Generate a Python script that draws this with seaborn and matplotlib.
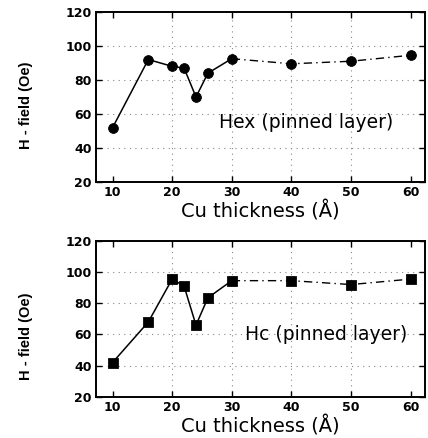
import numpy as np
import pandas as pd
import matplotlib
matplotlib.use("Agg")
import matplotlib.pyplot as plt
import seaborn as sns

# Cu thickness (A)
cu_thickness = [10, 16, 20, 22, 24, 26, 30, 40, 50, 60]
# exchange field of pinned layer (Oe)
hex_field = [52, 92, 88, 87, 70, 84, 92.5, 89.5, 91, 94.5]
# coercivity of pinned layer (Oe)
hc_field = [42, 68, 95.5, 91, 66, 83.5, 94.5, 94.5, 92, 95.5]
y_ticks = [20, 40, 60, 80, 100, 120]
x_ticks = [10, 20, 30, 40, 50, 60]

sns.set_style("ticks", {"text.color": "black", "axes.labelcolor": "black",
                        "xtick.color": "black", "ytick.color": "black",
                        "axes.edgecolor": "black"})
plt.rcParams["font.family"] = ["DejaVu Sans"]

fig = plt.figure(figsize=(4.28, 4.38), dpi=100)
ax_top = fig.add_axes([0.224, 0.584, 0.77, 0.389])
ax_bot = fig.add_axes([0.224, 0.094, 0.77, 0.356])


def draw_panel(ax, values, marker, label, text_xy, ylab_y):
    df = pd.DataFrame({"x": cu_thickness, "y": values})
    solid = df[df.x <= 30]
    dashed = df[df.x >= 30]
    sns.lineplot(data=solid, x="x", y="y", ax=ax, color="black", lw=1.1,
                 sort=False, estimator=None)
    sns.lineplot(data=dashed, x="x", y="y", ax=ax, color="black", lw=1.0,
                 sort=False, estimator=None, linestyle=(0, (6, 3, 1, 3)))
    sns.scatterplot(data=df, x="x", y="y", ax=ax, marker=marker, s=50,
                    color="black", edgecolor="black", zorder=5)
    ax.set_xlim(7.2, 62.5)
    ax.set_ylim(20, 120)
    ax.set_xticks(x_ticks)
    ax.set_yticks(y_ticks)
    for v in [40, 60, 80, 100]:
        ax.axhline(v, color="#888888", lw=0.8, ls=(0, (1, 4)), zorder=0)
    for v in [20, 30, 40, 50]:
        ax.axvline(v, color="#888888", lw=0.8, ls=(0, (1, 4)), zorder=0)
    ax.tick_params(direction="in", top=True, right=True, length=4,
                   width=1.0, labelsize=9, pad=3, colors="black")
    for lab in ax.get_xticklabels() + ax.get_yticklabels():
        lab.set_fontweight("bold")
    for sp in ax.spines.values():
        sp.set_linewidth(1.4)
        sp.set_color("black")
        sp.set_visible(True)
    ax.set_xlabel("Cu thickness (Å)", fontsize=14, labelpad=1, color="black")
    ax.set_ylabel("H - field (Oe)", fontsize=10.5, fontweight="bold",
                  color="black",
                  family=["DejaVu Sans Condensed", "Liberation Sans Narrow",
                          "Liberation Sans"])
    ax.yaxis.set_label_coords(-0.19, ylab_y)
    ax.text(text_xy[0], text_xy[1], label, fontsize=13.5, va="center",
            color="black")


draw_panel(ax_top, hex_field, "o", "Hex (pinned layer)", (27.8, 55), 0.45)
draw_panel(ax_bot, hc_field, "s", "Hc (pinned layer)", (32.3, 60), 0.39)

fig.savefig("out.png", dpi=100)
